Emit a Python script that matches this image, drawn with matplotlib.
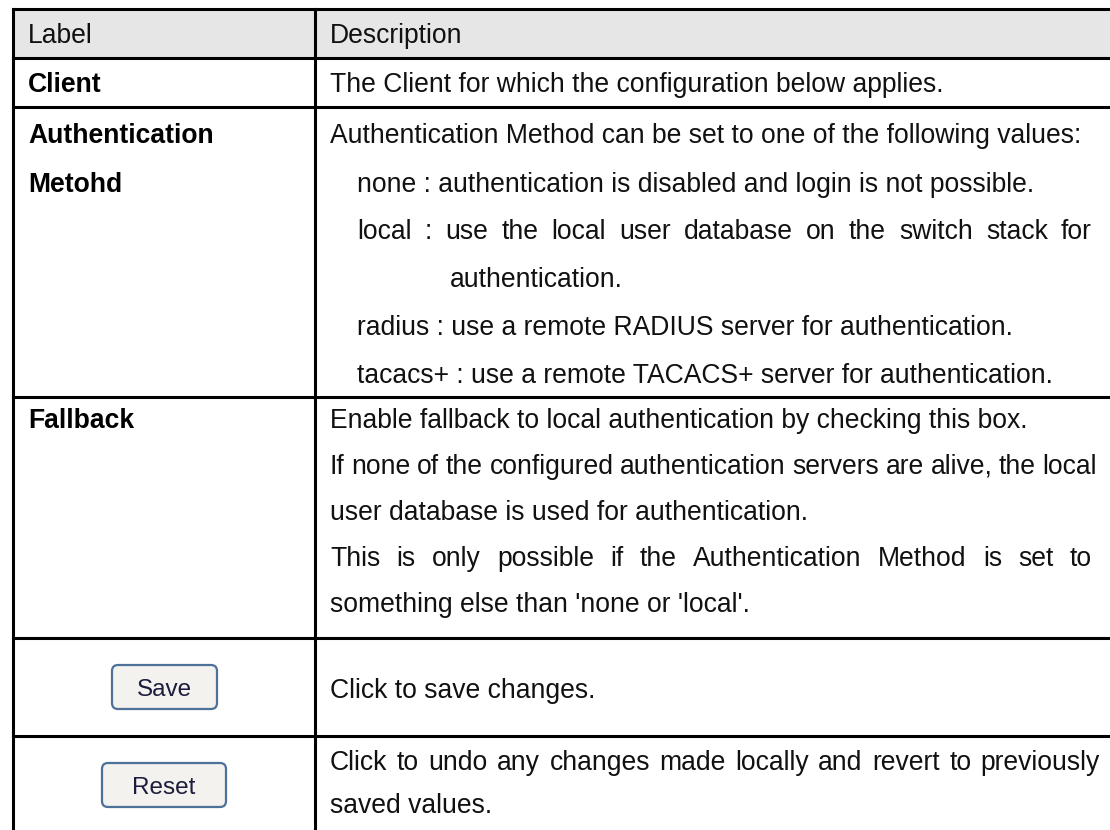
import matplotlib
matplotlib.use("Agg")
import matplotlib.pyplot as plt
from matplotlib.patches import Rectangle, FancyBboxPatch

plt.rcParams["font.family"] = ["Liberation Sans", "DejaVu Sans"]

W, H = 1110, 830
FS = 19.1

# ---- table content ----
header = ["Label", "Description"]
labels = [["Client"], ["Authentication", "Metohd"], ["Fallback"]]
buttons = ["Save", "Reset"]
# (text, indent, justify_to) per description line
desc = [
    [("The Client for which the configuration below applies.", 0, None)],
    [("Authentication Method can be set to one of the following values:", 0, None),
     ("none : authentication is disabled and login is not possible.", 1, None),
     ("local : use the local user database on the switch stack for", 1, 1092),
     ("authentication.", 2, None),
     ("radius : use a remote RADIUS server for authentication.", 1, None),
     ("tacacs+ : use a remote TACACS+ server for authentication.", 1, None)],
    [("Enable fallback to local authentication by checking this box.", 0, None),
     ("If none of the configured authentication servers are alive, the local", 0, 1097),
     ("user database is used for authentication.", 0, None),
     ("This is only possible if the Authentication Method is set to", 0, 1092),
     ("something else than 'none or 'local'.", 0, None)],
    [("Click to save changes.", 0, None)],
    [("Click to undo any changes made locally and revert to previously", 0, 1100),
     ("saved values.", 0, None)],
]

# ---- layout (pixels) ----
X_LEFT, X_DIV = 13, 315
ROW_EDGES = [9, 58, 107, 397, 638, 736]
LINE_Y = [[82], [133, 182, 229, 277, 325, 373], [418, 464, 510, 556, 602], [688], [760, 803]]
LABEL_X, DESC_X = 28, 330
INDENT_X = {0: 330, 1: 357, 2: 450}
BTN = [(112, 665, 105, 44), (102, 763, 124, 44)]
CAP = 0.36 * FS * 100 / 72  # half cap height in px
LW = 2.2

fig = plt.figure(figsize=(W / 100, H / 100), dpi=100)
ax = fig.add_axes([0, 0, 1, 1])
ax.set_xlim(0, W)
ax.set_ylim(H, 0)
ax.axis("off")

ax.add_patch(Rectangle((X_LEFT, ROW_EDGES[0]), W - X_LEFT, ROW_EDGES[1] - ROW_EDGES[0],
                       facecolor="#e6e6e6", edgecolor="none", zorder=0))
for y in ROW_EDGES:
    ax.plot([X_LEFT, W], [y, y], color="black", lw=LW, solid_capstyle="projecting")
for x in (X_LEFT, X_DIV):
    ax.plot([x, x], [ROW_EDGES[0], H], color="black", lw=LW, solid_capstyle="projecting")

hy = (ROW_EDGES[0] + ROW_EDGES[1]) / 2 + CAP
ax.text(LABEL_X, hy, header[0], fontsize=FS, va="baseline", color="#111111")
ax.text(DESC_X, hy, header[1], fontsize=FS, va="baseline", color="#111111")

for r, lab in enumerate(labels):
    for k, s in enumerate(lab):
        ax.text(LABEL_X, LINE_Y[r][k] + CAP, s, fontsize=FS, fontweight="bold",
                va="baseline", color="black")

for (bx, by, bw, bh), name in zip(BTN, buttons):
    ax.add_patch(FancyBboxPatch((bx, by), bw, bh, boxstyle="round,pad=0,rounding_size=6",
                                facecolor="#f3f2ee", edgecolor="#4d7199", lw=1.6))
    ax.text(bx + bw / 2, by + bh / 2 + 0.36 * 17.5 * 100 / 72, name, fontsize=17.5,
            ha="center", va="baseline", color="#1c1c3c")

renderer = fig.canvas.get_renderer()
for r, lines in enumerate(desc):
    for k, (s, ind, jx) in enumerate(lines):
        y = LINE_Y[r][k] + CAP
        x0 = INDENT_X[ind]
        if jx is None:
            ax.text(x0, y, s, fontsize=FS, va="baseline", color="#111111")
            continue
        words = s.split(" ")
        objs = [ax.text(0, y, w_, fontsize=FS, va="baseline", color="#111111") for w_ in words]
        widths = [o.get_window_extent(renderer).width for o in objs]
        gap = (jx - x0 - sum(widths)) / (len(words) - 1)
        x = x0
        for o, wd in zip(objs, widths):
            o.set_x(x)
            x += wd + gap

fig.savefig("out.png", dpi=100)
